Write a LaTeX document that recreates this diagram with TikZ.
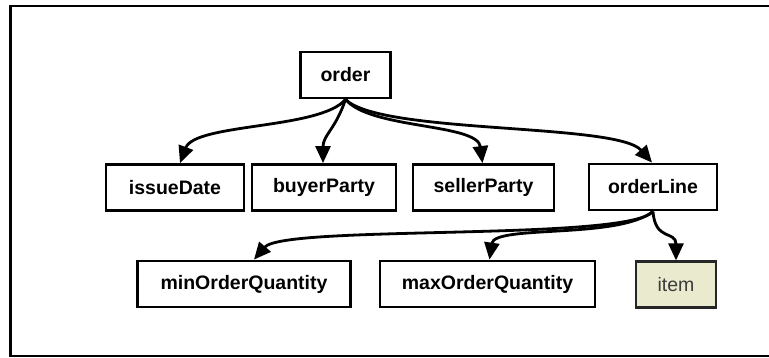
\documentclass[tikz,border=0pt]{standalone}
\usepackage{fontspec}
\setmainfont{Liberation Sans}
\usetikzlibrary{arrows.meta}
\definecolor{leaffill}{RGB}{234,234,206}
\definecolor{leaftext}{RGB}{60,60,60}
\tikzset{
  elem/.style={draw=black, line width=2.8pt, inner sep=0pt, minimum height=46pt,
               font=\fontsize{19.5}{22}\selectfont\bfseries},
  leaf/.style={elem, fill=leaffill, draw=black!85, line width=2.2pt, text=leaftext,
               font=\fontsize{19.5}{22}\selectfont},
  link/.style={line width=2.8pt, -{Triangle[length=17pt,width=15pt]}},
}
\begin{document}
\begin{tikzpicture}[x=1pt, y=-1pt]
  \useasboundingbox (0,0) rectangle (769,358);
  % open frame around the tree
  \draw[line width=2.5pt] (769,6) -- (10.5,6) -- (10.5,356) -- (769,356);

  % nodes
  \node[elem, minimum width=90pt]  (order)     at (345.5,75)  {order};
  \node[elem, minimum width=138pt] (issueDate) at (175,187.5) {issueDate};
  \node[elem, minimum width=144pt] (buyer)     at (324,187.5) {buyerParty};
  \node[elem, minimum width=141pt] (seller)    at (483.5,187.5) {sellerParty};
  \node[elem, minimum width=128pt] (orderLine) at (653,187)   {orderLine};
  \node[elem, minimum width=213pt] (minQ)      at (244,284)   {minOrderQuantity};
  \node[elem, minimum width=215pt] (maxQ)      at (487.5,284) {maxOrderQuantity};
  \node[leaf, minimum width=80pt]  (item)      at (676,284.5) {item};

  % order -> children
  \draw[link] (order.south) .. controls +(-25,30) and +(15,-40) .. ([xshift=5pt]issueDate.north);
  \draw[link] (order.south) .. controls +(-10,30) and +(0,-28) .. ([xshift=-1pt]buyer.north);
  \draw[link] (order.south) .. controls +(25,30) and +(-5,-40) .. ([xshift=-1pt]seller.north);
  \draw[link] (order.south) .. controls +(35,35) and +(-35,-40) .. ([xshift=-1pt]orderLine.north);

  % orderLine -> children
  \draw[link] (orderLine.south) .. controls +(-25,30) and +(30,-35) .. ([xshift=10pt]minQ.north);
  \draw[link] (orderLine.south) .. controls +(-35,28) and +(5,-35) .. ([xshift=2pt]maxQ.north);
  \draw[link] (orderLine.south) .. controls +(2,30) and +(0,-30) .. (item.north);
\end{tikzpicture}
\end{document}
